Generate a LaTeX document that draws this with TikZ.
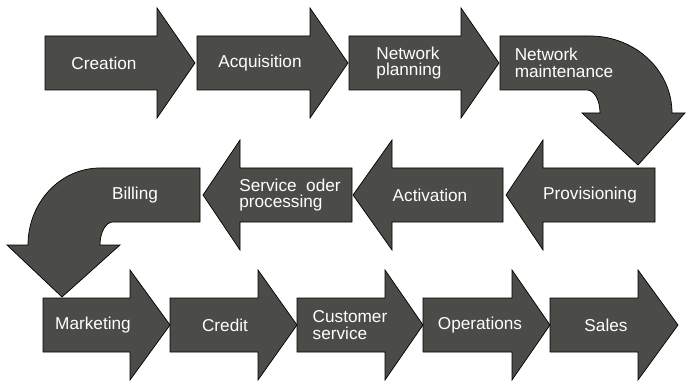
\documentclass[tikz,border=0pt]{standalone}
\usepackage{fontspec}
\setmainfont{Liberation Sans}
\definecolor{blkgray}{RGB}{75,76,72}
\begin{document}
\begin{tikzpicture}[x=1pt, y=1pt, line join=miter]
	\tikzset{blk/.style={fill=blkgray, draw=black, line width=0.7pt},
		lbl/.style={text=white, align=left, inner sep=0pt, font=\fontsize{17.2}{16.8}\selectfont}}
	\useasboundingbox (0,0) rectangle (686,381);
	% straight block arrows: tail/head base/tip/middle
	\foreach \xa/\xb/\xc/\yc in {45/157/195/318, 197/310/348/318, 349/461/499/318,
		655/543/506/186, 503/392/353/186, 352/240/203/186,
		43/130/170/56, 170/258/297/56, 297/385/423/56, 423/512/550/56, 550/638/678/56}
	\draw[blk] (\xa,\yc-27)--(\xb,\yc-27)--(\xb,\yc-55)--(\xc,\yc)--(\xb,\yc+55)--(\xb,\yc+27)--(\xa,\yc+27)--cycle;
	% bend down on the right
	\draw[blk] (500,345)--(590,345) arc[start angle=90, end angle=0, x radius=82, y radius=77]
		--(685,268)--(638,216)--(582,268)--(600,268) arc[start angle=0, end angle=90, x radius=13, y radius=23]
		--(500,291)--cycle;
	% bend down on the left
	\draw[blk] (200,213)--(100,213) arc[start angle=90, end angle=180, x radius=72, y radius=77]
		--(7,136)--(62,84)--(120,136)--(100,136) arc[start angle=180, end angle=90, x radius=13, y radius=23]
		--(200,159)--cycle;
	% labels
	\node[lbl] (creation) at (104,318) {Creation};
	\node[lbl] (acquisition) at (260,318) {Acquisition};
	\node[lbl] (planning) at (409,318) {Network\\planning};
	\node[lbl] (maintenance) at (564,318) {Network\\maintenance};
	\node[lbl] (provisioning) at (590,186) {Provisioning};
	\node[lbl] (activation) at (430,186) {Activation};
	\node[lbl] (order) at (290,186) {Service\ \ oder\\processing};
	\node[lbl] (billing) at (135,186) {Billing};
	\node[lbl] (marketing) at (93,56) {Marketing};
	\node[lbl] (credit) at (225,56) {Credit};
	\node[lbl] (customer) at (350,56) {Customer\\service};
	\node[lbl] (operations) at (480,56) {Operations};
	\node[lbl] (sales) at (606,56) {Sales};
\end{tikzpicture}
\end{document}
